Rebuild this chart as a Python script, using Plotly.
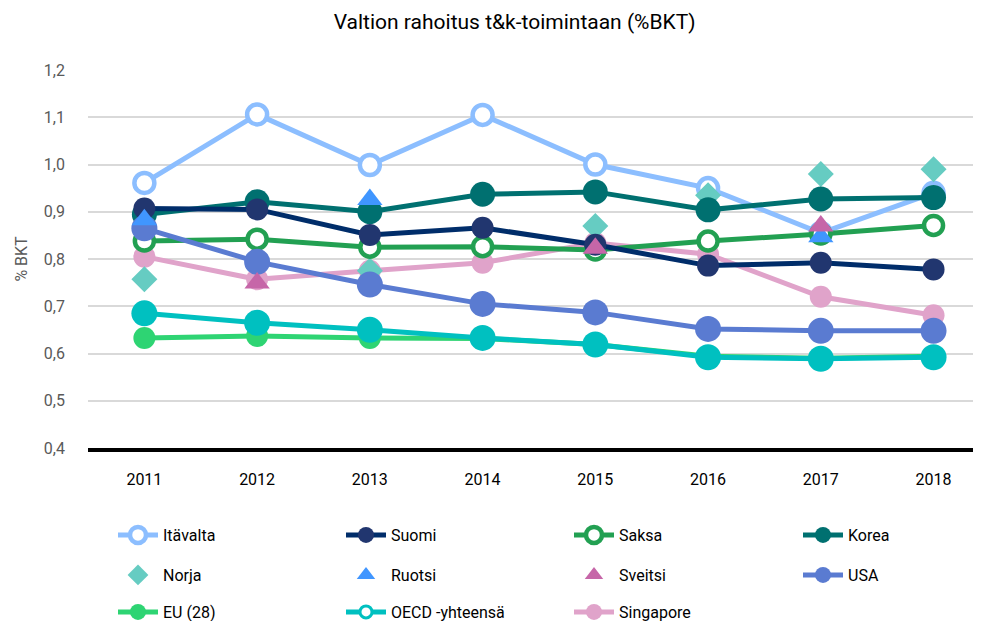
import plotly.graph_objects as go

years = ["2011", "2012", "2013", "2014", "2015", "2016", "2017", "2018"]

itavalta = [0.961, 1.106, 0.999, 1.105, 1.000, 0.950, 0.855, 0.940]
suomi = [0.907, 0.905, 0.851, 0.866, 0.830, 0.786, 0.792, 0.778]
saksa = [0.838, 0.842, 0.825, 0.826, 0.819, 0.838, 0.853, 0.871]
korea = [0.894, 0.921, 0.900, 0.937, 0.942, 0.904, 0.927, 0.930]
norja = [0.757, None, 0.775, None, 0.870, 0.935, 0.980, 0.990]
ruotsi = [0.883, None, 0.926, None, None, None, 0.847, None]
sveitsi = [None, 0.749, None, None, 0.823, None, 0.870, None]
usa = [0.865, 0.794, 0.746, 0.705, 0.687, 0.652, 0.648, 0.648]
eu28 = [0.633, 0.637, 0.633, 0.632, 0.619, 0.594, 0.590, 0.594]
oecd = [0.685, 0.665, 0.650, 0.633, 0.619, 0.592, 0.589, 0.592]
singapore = [0.805, 0.757, 0.775, 0.792, 0.834, 0.810, 0.720, 0.681]

FONT = "Roboto, Liberation Sans, sans-serif"

fig = go.Figure()


def line_trace(name, y, color, rank, legend, hollow=False, size=22, lcolor=None, showlegend=True):
    if hollow:
        marker = dict(symbol="circle", size=size, color="white",
                      line=dict(color=color, width=4.5))
    else:
        marker = dict(symbol="circle", size=size, color=color, line=dict(width=0))
    fig.add_trace(go.Scatter(
        x=years, y=y, name=name, mode="lines+markers",
        line=dict(color=lcolor or color, width=5),
        marker=marker, legendrank=rank, legend=legend,
        showlegend=showlegend, cliponaxis=False, connectgaps=False))


def marker_trace(name, y, color, symbol, size, rank, legend):
    fig.add_trace(go.Scatter(
        x=years, y=y, name=name, mode="markers",
        marker=dict(symbol=symbol, size=size, color=color, line=dict(width=0)),
        legendrank=rank, legend=legend, cliponaxis=False))


# drawing order (bottom to top)
line_trace("Singapore", singapore, "#E0A3CA", 11, "legend5", size=22)
line_trace("EU (28)", eu28, "#2ED473", 9, "legend5", size=22)
line_trace("OECD -yhteensä", oecd, "#00C0C0", 10, "legend5", size=26, showlegend=False)
fig.add_trace(go.Scatter(
    x=[None], y=[None], name="OECD -yhteensä", mode="lines+markers",
    line=dict(color="#00C0C0", width=5),
    marker=dict(symbol="circle", size=12, color="white", line=dict(color="#00C0C0", width=3)),
    legendrank=10, legend="legend5"))
line_trace("Itävalta", itavalta, "#8CBEFF", 1, "legend", hollow=True, size=20)
marker_trace("Norja", norja, "#66CCC2", "diamond", 20, 5, "legend3")
line_trace("Saksa", saksa, "#22A052", 3, "legend", hollow=True, size=19)
line_trace("Korea", korea, "#007070", 4, "legend2", size=25)
line_trace("Suomi", suomi, "#21366F", 2, "legend", size=22, lcolor="#002D6A")
line_trace("USA", usa, "#5A7BD1", 8, "legend4", size=26)
marker_trace("Ruotsi", ruotsi, "#4096FF", "triangle-up", 22, 6, "legend3")
marker_trace("Sveitsi", sveitsi, "#C666A8", "triangle-up", 22, 7, "legend3")

# page has an 8px body margin: figure is placed at (8, 8)
FIG_W, FIG_H = 965, 613
plot_top, plot_bottom = 62, 440
ph = plot_bottom - plot_top


def ypaper(page_pix):
    return (plot_bottom - (page_pix - 8)) / ph


def xpaper(page_icon_x):
    return (page_icon_x - 7 - 88) / 885


leg_common = dict(orientation="h", xanchor="left", yanchor="middle",
                  entrywidthmode="pixels", itemwidth=40,
                  font=dict(family=FONT, size=16, color="#000000"),
                  bgcolor="rgba(0,0,0,0)", traceorder="normal")

fig.update_layout(
    width=FIG_W, height=FIG_H,
    margin=dict(l=80, r=0, t=plot_top, b=FIG_H - plot_bottom),
    paper_bgcolor="white", plot_bgcolor="white",
    separators=", ",
    font=dict(family=FONT, size=16, color="#000000"),
    title=dict(text="Valtion rahoitus t&k-toimintaan (%BKT)", x=0.525, xanchor="center",
               y=1 - 14 / FIG_H, yanchor="middle",
               font=dict(family=FONT, size=21, color="#000000")),
    legend=dict(**leg_common, entrywidth=173, x=xpaper(120), y=ypaper(535)),
    legend2=dict(**leg_common, entrywidth=60, x=xpaper(805), y=ypaper(535)),
    legend3=dict(**leg_common, entrywidth=173, x=xpaper(120), y=ypaper(575)),
    legend4=dict(**leg_common, entrywidth=60, x=xpaper(805), y=ypaper(575)),
    legend5=dict(**leg_common, entrywidth=173, x=xpaper(120), yref="container",
                 y=1 - (612 - 8) / FIG_H),
    xaxis=dict(type="category", range=[-0.5, 7.35], showgrid=False,
               showline=True, linecolor="#000000", linewidth=4,
               ticks="", ticklabelstandoff=14,
               tickfont=dict(family=FONT, size=16, color="#000000")),
    yaxis=dict(range=[0.4, 1.2], dtick=0.1, tick0=0.4, tickformat=".1f",
               showgrid=True, gridcolor="#D9D9D9", gridwidth=1.5,
               zeroline=False, showline=False, ticks="", ticklabelstandoff=22,
               tickfont=dict(family=FONT, size=16, color="#595959"),
               title=dict(text="% BKT", standoff=12,
                          font=dict(family=FONT, size=16, color="#595959"))),
)

fig.write_html("out.html")
